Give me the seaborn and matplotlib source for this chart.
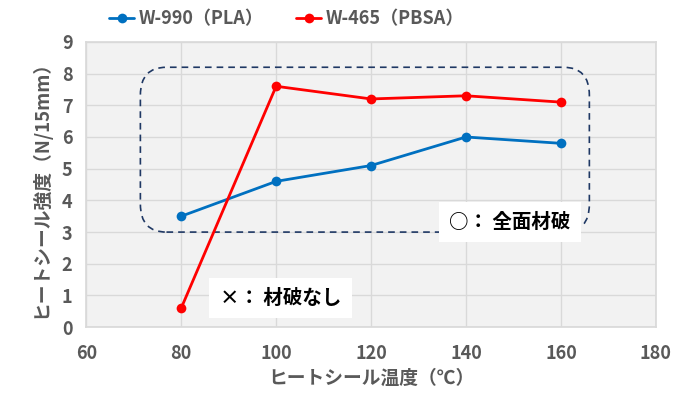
import matplotlib
matplotlib.use("Agg")
import matplotlib.pyplot as plt
from matplotlib.patches import FancyBboxPatch
import pandas as pd
import seaborn as sns

temps = [80, 100, 120, 140, 160]
pla = [3.5, 4.6, 5.1, 6.0, 5.8]
pbsa = [0.6, 7.6, 7.2, 7.3, 7.1]
series_names = ["W-990（PLA）", "W-465（PBSA）"]
colors = ["#0070c0", "#ff0000"]

df = pd.DataFrame({
    "temp": temps * 2,
    "strength": pla + pbsa,
    "series": [series_names[0]] * len(temps) + [series_names[1]] * len(temps),
})

sns.set_theme(style="white")
plt.rcParams['font.family'] = ['Noto Sans CJK JP', 'DejaVu Sans']

fig, ax = plt.subplots(figsize=(6.74, 3.99), dpi=100)
fig.subplots_adjust(left=0.128, right=0.973, top=0.895, bottom=0.18)
ax.set_facecolor("#f2f2f2")

sns.lineplot(data=df, x="temp", y="strength", hue="series", palette=colors,
             marker="o", markersize=7, markeredgewidth=0, linewidth=2,
             ax=ax, zorder=3)

ax.set_xlim(60, 180)
ax.set_ylim(0, 9)
ax.set_xticks(range(60, 181, 20))
ax.set_yticks(range(0, 10))
ax.grid(True, color="#d9d9d9", linewidth=1)
ax.set_axisbelow(True)
for s in ax.spines.values():
    s.set_color("#d9d9d9")

ax.tick_params(axis="both", length=0, labelsize=13, colors="#595959")
ax.tick_params(axis="x", pad=12)
ax.tick_params(axis="y", pad=10)
for lab in ax.get_xticklabels() + ax.get_yticklabels():
    lab.set_fontweight("bold")

ax.set_xlabel("ヒートシール温度（℃）", fontsize=13.5, color="#595959",
              fontweight="bold", labelpad=4)
ax.set_ylabel("ヒートシール強度（N/15mm）", fontsize=13.5, color="#595959",
              fontweight="bold", labelpad=8)

# dashed rounded region
box = FancyBboxPatch((71.4, 3.0), 94.6, 5.2,
                     boxstyle="round,pad=0,rounding_size=5.5",
                     mutation_aspect=0.16,
                     fill=False, edgecolor="#1f3864", linestyle=(0, (4, 3)),
                     linewidth=1.2, zorder=2)
ax.add_patch(box)

ax.text(149.3, 3.32, "○： 全面材破", fontsize=14, fontweight="bold",
        ha="center", va="center", color="black", zorder=4,
        bbox=dict(boxstyle="square,pad=0.55", facecolor="white", edgecolor="none"))
ax.text(101, 0.92, "×： 材破なし", fontsize=14, fontweight="bold",
        ha="center", va="center", color="black", zorder=4,
        bbox=dict(boxstyle="square,pad=0.55", facecolor="white", edgecolor="none"))

leg = ax.legend(loc="upper left", bbox_to_anchor=(100 / 674, 1.0),
                bbox_transform=fig.transFigure, ncol=2,
                frameon=False, fontsize=13, handlelength=1.4,
                handletextpad=0.25, columnspacing=1.8, borderaxespad=0.1)
for t in leg.get_texts():
    t.set_color("#595959")
    t.set_fontweight("bold")

fig.savefig("out.png")
